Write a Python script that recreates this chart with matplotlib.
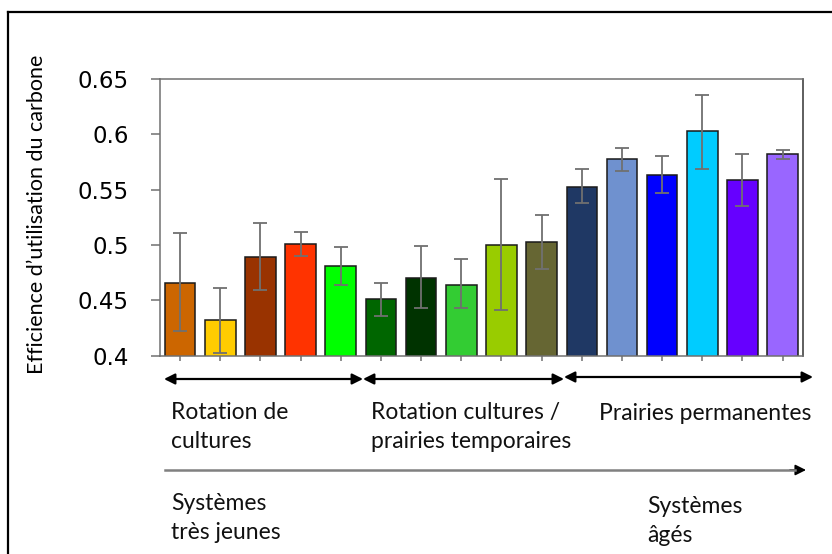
import matplotlib.pyplot as plt
from matplotlib.lines import Line2D
import numpy as np

# bar values (16 systems)
values = [0.466, 0.432, 0.4895, 0.501, 0.481, 0.451, 0.470, 0.464,
          0.500, 0.5025, 0.5527, 0.5775, 0.5633, 0.6027, 0.559, 0.582]
err_low = [0.044, 0.030, 0.030, 0.011, 0.017, 0.015, 0.027, 0.021,
           0.059, 0.0245, 0.0144, 0.0106, 0.0166, 0.034, 0.0235, 0.0045]
err_high = [0.045, 0.029, 0.030, 0.011, 0.017, 0.015, 0.029, 0.023,
            0.060, 0.0242, 0.016, 0.0102, 0.0174, 0.0326, 0.0235, 0.0036]
colors = ['#CC6600', '#FFCC00', '#993300', '#FF3300', '#00FF00', '#006600',
          '#003300', '#33CC33', '#99CC00', '#666633', '#1F3864', '#6F91CF',
          '#0000FF', '#00CCFF', '#6600FF', '#9966FF']
yticks = [0.4, 0.45, 0.5, 0.55, 0.6, 0.65]
ytick_labels = ['0.4', '0.45', '0.5', '0.55', '0.6', '0.65']
ylabel = 'Efficience d\u2019utilisation du carbone'
groups = ['Rotation de\ncultures', 'Rotation cultures /\nprairies temporaires',
          'Prairies permanentes']
age_labels = ['Syst\u00e8mes\ntr\u00e8s jeunes', 'Syst\u00e8mes\n\u00e2g\u00e9s']

W, H = 832, 554
fig = plt.figure(figsize=(W / 100, H / 100), dpi=100)
ax = fig.add_axes([160 / W, 1 - 355.7 / H, 642.7 / W, 276.7 / H])

x = np.arange(len(values))
ax.bar(x, values, width=0.76, color=colors, edgecolor='#1a1a1a', linewidth=1.1,
       zorder=2)
ax.errorbar(x, values, yerr=[err_low, err_high], fmt='none', ecolor='#707070',
            elinewidth=1.3, capsize=5, capthick=1.3, zorder=3)

ax.set_xlim(-0.5, len(values) - 0.5)
ax.set_ylim(0.4, 0.65)
ax.set_xticks(x)
ax.set_xticklabels([])
ax.set_yticks(yticks)
ax.set_yticklabels(ytick_labels, fontfamily='DejaVu Sans', fontsize=16.5)
ax.tick_params(axis='y', length=6.5, width=1.1, color='#707070', pad=16)
ax.tick_params(axis='x', length=3.5, width=1.1, color='#707070')
for s in ['top', 'left', 'bottom']:
    ax.spines[s].set_color('#707070')
    ax.spines[s].set_linewidth(1.1)
ax.spines['right'].set_color('#333333')
ax.spines['right'].set_linewidth(1.1)

fig.text(37 / W, 1 - 214 / H, ylabel, rotation=90, ha='center', va='center',
         fontfamily='Lato', fontsize=15.5)

# outer frame
fig.add_artist(Line2D([8 / W, 8 / W], [0, 1 - 12 / H], color='black', lw=1.6))
fig.add_artist(Line2D([8 / W, 1], [1 - 12 / H, 1 - 12 / H], color='black', lw=1.6))


def fp(px, py):
    return (px, H - py)


# group arrows under the bars
spans = [(164, 363, 379), (363, 564, 379), (564, 813, 377)]
for x0, x1, yy in spans:
    ax.annotate('', xy=fp(x1, yy), xytext=fp(x0, yy), xycoords='figure pixels',
                textcoords='figure pixels', annotation_clip=False,
                arrowprops=dict(arrowstyle='<|-|>', color='black', lw=1.6,
                                mutation_scale=16, shrinkA=0, shrinkB=0))

tfont = dict(fontfamily='Lato', fontsize=16.5, color='#111111', va='center',
             ha='left', linespacing=1.5)
fig.text(171 / W, 1 - 427 / H, groups[0], **tfont)
fig.text(371 / W, 1 - 427 / H, groups[1], **tfont)
fig.text(599 / W, 1 - 413 / H, groups[2], **tfont)

# age axis
fig.add_artist(Line2D([165 / W, 795 / W], [1 - 470 / H, 1 - 470 / H],
                      color='#808080', lw=1.8))
ax.annotate('', xy=fp(806, 470), xytext=fp(790, 470), xycoords='figure pixels',
            textcoords='figure pixels', annotation_clip=False,
            arrowprops=dict(arrowstyle='-|>', color='black', lw=1.2,
                            mutation_scale=16, shrinkA=0, shrinkB=0))
fig.text(171 / W, 1 - 518 / H, age_labels[0], **tfont)
fig.text(647 / W, 1 - 521 / H, age_labels[1], **tfont)

fig.savefig('out.png', dpi=100)
